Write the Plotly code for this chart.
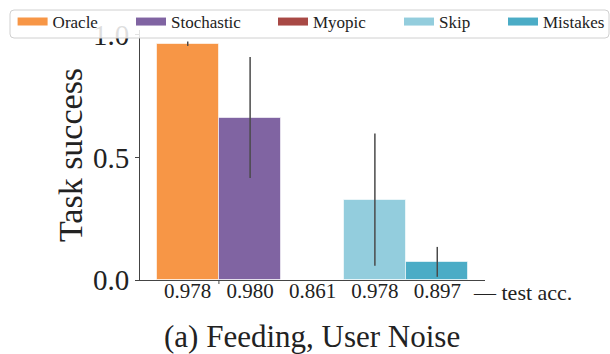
import plotly.graph_objects as go

# ---- data ----
methods = ["Oracle", "Stochastic", "Myopic", "Skip", "Mistakes"]
task_success = [0.964, 0.663, 0.0, 0.328, 0.074]
error = [0.009, 0.247, 0.0, 0.270, 0.061]
test_acc = ["0.978", "0.980", "0.861", "0.978", "0.897"]
colors = ["#F79646", "#8064A2", "#A84945", "#93CDDD", "#4BACC6"]
y_ticks = [0.0, 0.5, 1.0]
title_text = "(a) Feeding, User Noise"
y_title = "Task success"
acc_label = "— test acc."

FONT = "Liberation Serif, Times New Roman, serif"
TXT = "#222222"
AX = "#444444"

W, H = 610, 354
L, R, T, B = 140, 125, 30, 74
pw, ph = W - L - R, H - T - B

def px(xp):
    return (xp - L) / pw

def py(yp):
    return (H - B - yp) / ph

def rounded_box(x0, y0, x1, y1, r):
    # pixel coords -> paper coords path with rounded corners
    pts = [
        f"M {px(x0 + r)},{py(y0)}",
        f"L {px(x1 - r)},{py(y0)}",
        f"Q {px(x1)},{py(y0)} {px(x1)},{py(y0 + r)}",
        f"L {px(x1)},{py(y1 - r)}",
        f"Q {px(x1)},{py(y1)} {px(x1 - r)},{py(y1)}",
        f"L {px(x0 + r)},{py(y1)}",
        f"Q {px(x0)},{py(y1)} {px(x0)},{py(y1 - r)}",
        f"L {px(x0)},{py(y0 + r)}",
        f"Q {px(x0)},{py(y0)} {px(x0 + r)},{py(y0)}",
        "Z",
    ]
    return " ".join(pts)

xs = list(range(len(methods)))

fig = go.Figure()
fig.add_trace(go.Bar(
    x=xs, y=task_success, width=1.0,
    marker=dict(color=colors, line=dict(color="rgba(255,255,255,0.6)", width=1)),
    error_y=dict(type="data", array=error, visible=True, color="#4a4a4a",
                 thickness=1.5, width=0),
    showlegend=False, hoverinfo="skip",
))

# legend entries (thick line swatches), one legend each for matplotlib-like spacing
swatch_x = [15.6, 134, 276, 402, 506]
legend_keys = ["legend", "legend2", "legend3", "legend4", "legend5"]
for i, m in enumerate(methods):
    fig.add_trace(go.Scatter(
        x=[None], y=[None], mode="lines", name=m,
        line=dict(color=colors[i], width=8),
        legend=legend_keys[i], hoverinfo="skip",
    ))

layout_legends = {}
for i, key in enumerate(legend_keys):
    layout_legends[key] = dict(
        x=px(swatch_x[i] - 3), y=py(22), xanchor="left", yanchor="middle",
        orientation="h", bgcolor="rgba(0,0,0,0)", borderwidth=0,
        font=dict(family=FONT, size=17, color=TXT),
        itemclick=False, itemdoubleclick=False,
    )

fig.update_layout(
    width=W, height=H,
    margin=dict(l=L, r=R, t=T, b=B, autoexpand=False),
    paper_bgcolor="white", plot_bgcolor="white",
    bargap=0,
    font=dict(family=FONT, color=TXT),
    xaxis=dict(
        range=[-0.765, 4.765], tickvals=xs, ticktext=test_acc,
        ticks="", showline=True, linecolor=AX, linewidth=1,
        showgrid=False, zeroline=False, ticklabelstandoff=-8,
        tickfont=dict(family=FONT, size=21, color=TXT),
    ),
    yaxis=dict(
        range=[0, 1.02], tickvals=y_ticks, tickformat=".1f",
        ticks="outside", ticklen=4, tickcolor=AX, tickwidth=1,
        showline=True, linecolor=AX, linewidth=1,
        showgrid=False, zeroline=False,
        tickfont=dict(family=FONT, size=29, color=TXT),
        title=dict(text=y_title, font=dict(family=FONT, size=34, color=TXT), standoff=0),
    ),
    shapes=[
        dict(type="line", xref="x", yref="paper", x0=0.5, x1=0.5, y0=0, y1=-4 / ph,
             line=dict(color=AX, width=1)),
        dict(type="path", xref="paper", yref="paper", layer="above",
             path=rounded_box(10, 10, 609, 38, 4),
             fillcolor="rgba(255,255,255,0.85)", line=dict(color="#d0d0d0", width=1)),
    ],
    annotations=[
        dict(text=acc_label, xref="paper", yref="paper", x=px(471), y=py(292),
             xanchor="left", yanchor="middle", showarrow=False,
             font=dict(family=FONT, size=22, color=TXT)),
        dict(text=title_text, xref="paper", yref="paper", x=px(312), y=py(336),
             xanchor="center", yanchor="middle", showarrow=False,
             font=dict(family=FONT, size=31, color=TXT)),
    ],
    **layout_legends,
)

fig.write_html("out.html")
